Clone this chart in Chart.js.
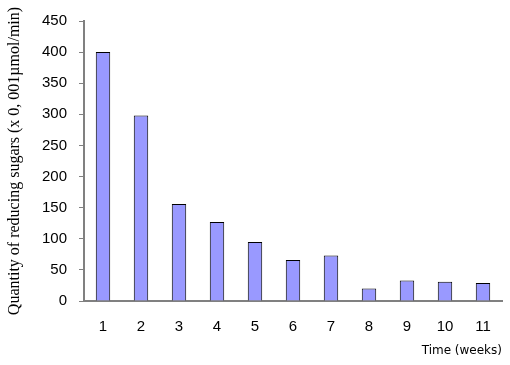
<!DOCTYPE html>
<html>
<head>
<meta charset="utf-8">
<script src="https://cdn.jsdelivr.net/npm/chart.js@4"></script>
<style>
  html, body { margin: 0; padding: 0; background: #fff; }
  #wrap { width: 510px; height: 365px; }
</style>
</head>
<body>
<div id="wrap"><canvas id="chart" width="510" height="365"></canvas></div>
<script>
const weeks = ['1', '2', '3', '4', '5', '6', '7', '8', '9', '10', '11'];
const sugars = [400, 298, 156, 127, 95, 66, 73, 20, 33, 31, 29];
const yTicks = [0, 50, 100, 150, 200, 250, 300, 350, 400, 450];

const ctx = document.getElementById('chart');

new Chart(ctx, {
    type: 'bar',
    data: {
        labels: weeks,
        datasets: [{
            data: sugars,
            backgroundColor: '#9999FF',
            borderColor: '#000000',
            borderWidth: 1,
            barPercentage: 0.38,
            categoryPercentage: 1
        }]
    },
    options: {
        responsive: false,
        animation: false,
        layout: { padding: { left: 0, right: 8, top: 21, bottom: 0 } },
        plugins: {
            legend: { display: false },
            tooltip: { enabled: false }
        },
        scales: {
            x: {
                grid: { display: false, drawTicks: false },
                border: { display: true, color: '#808080', width: 2 },
                ticks: {
                    color: '#000',
                    padding: 17,
                    font: { family: 'Liberation Sans', size: 15 }
                },
                title: {
                    display: true,
                    text: 'Time (weeks)',
                    align: 'end',
                    color: '#000',
                    font: { family: 'DejaVu Sans', size: 12 },
                    padding: { top: 4, bottom: 7 }
                },
                afterFit: scale => { scale.height = 64; }
            },
            y: {
                min: 0,
                max: 450,
                afterBuildTicks: scale => {
                    scale.ticks = yTicks.map(v => ({ value: v }));
                },
                grid: { drawOnChartArea: false, tickLength: 5, color: '#808080', lineWidth: 1 },
                border: { display: true, color: '#808080', width: 2 },
                ticks: {
                    color: '#000',
                    padding: 12,
                    font: { family: 'Liberation Sans', size: 15 }
                },
                title: {
                    display: true,
                    text: 'Quantity of reducing sugars (x 0, 001µmol/min)',
                    color: '#000',
                    font: { family: 'Liberation Serif', size: 16 },
                    padding: { top: 5, bottom: 0 }
                },
                afterFit: scale => { scale.width = 84; }
            }
        }
    }
});
</script>
</body>
</html>
